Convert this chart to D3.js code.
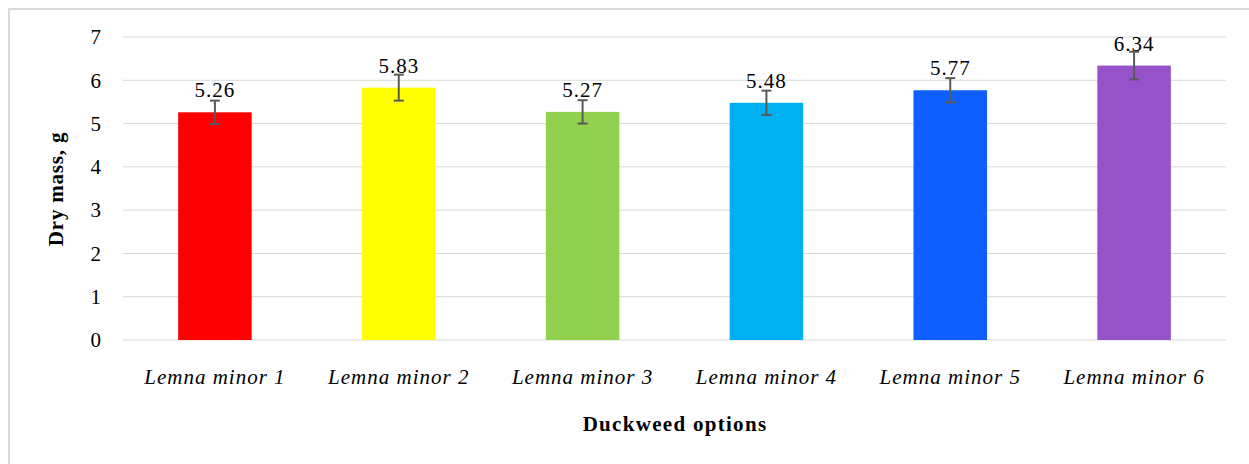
<!DOCTYPE html>
<html>
<head>
<meta charset="utf-8">
<script src="https://d3js.org/d3.v7.min.js"></script>
<style>
  body { margin: 0; background: #fff; }
  svg { display: block; }
  svg text { font-family: "Liberation Serif", "Times New Roman", "DejaVu Serif", serif; }
</style>
</head>
<body>
<div id="chart"></div>
<script>
// data
var categories = ["Lemna minor 1", "Lemna minor 2", "Lemna minor 3", "Lemna minor 4", "Lemna minor 5", "Lemna minor 6"];
var values = [5.26, 5.83, 5.27, 5.48, 5.77, 6.34];
var errors = [0.27, 0.30, 0.27, 0.28, 0.28, 0.32];
var colors = ["#ff0000", "#ffff00", "#92d050", "#00b0f0", "#0f5fff", "#9652c9"];
var yTicks = [0, 1, 2, 3, 4, 5, 6, 7];

var serif = "'Liberation Serif', 'Times New Roman', serif";
var w = 1249, h = 464;
var svg = d3.select("#chart").append("svg")
    .attr("width", w)
    .attr("height", h);

// frame
svg.append("rect")
    .attr("x", 9).attr("y", 9)
    .attr("width", w + 10).attr("height", h + 10)
    .attr("fill", "none")
    .attr("stroke", "#d9d9d9")
    .attr("stroke-width", 2);

// plot area (note: "top" is reserved on window)
var pLeft = 123, pRight = 1226, pTop = 37, pBottom = 340;

var x = d3.scaleBand().domain(categories).range([pLeft, pRight]).paddingInner(0.6).paddingOuter(0.3);
var y = d3.scaleLinear().domain([0, 7]).range([pBottom, pTop]);

// gridlines
svg.append("g").selectAll("line")
    .data(yTicks)
    .enter().append("line")
    .attr("x1", pLeft).attr("x2", pRight)
    .attr("y1", function(d) { return y(d); })
    .attr("y2", function(d) { return y(d); })
    .attr("stroke", "#d9d9d9")
    .attr("stroke-width", 1);

// y axis labels
var yAxis = d3.axisLeft(y).tickValues(yTicks).tickSize(0).tickPadding(0).tickFormat(d3.format("d"));
var gy = svg.append("g").attr("transform", "translate(101,0)").call(yAxis)
    .attr("font-family", null);
gy.select(".domain").remove();
gy.selectAll("text")
    .style("font-family", serif)
    .style("font-size", "21px")
    .attr("fill", "#000");

// bars
svg.append("g").selectAll("rect")
    .data(values)
    .enter().append("rect")
    .attr("x", function(d, i) { return x(categories[i]); })
    .attr("y", function(d) { return y(d); })
    .attr("width", x.bandwidth())
    .attr("height", function(d) { return y(0) - y(d); })
    .attr("fill", function(d, i) { return colors[i]; });

// error bars
var eb = svg.append("g").selectAll("g")
    .data(values)
    .enter().append("g")
    .attr("stroke", "#595959")
    .attr("stroke-width", 2);
eb.append("line")
    .attr("x1", function(d, i) { return x(categories[i]) + x.bandwidth() / 2; })
    .attr("x2", function(d, i) { return x(categories[i]) + x.bandwidth() / 2; })
    .attr("y1", function(d, i) { return y(d + errors[i]); })
    .attr("y2", function(d, i) { return y(d - errors[i]); });
[1, -1].forEach(function(s) {
  eb.append("line")
    .attr("x1", function(d, i) { return x(categories[i]) + x.bandwidth() / 2 - 5; })
    .attr("x2", function(d, i) { return x(categories[i]) + x.bandwidth() / 2 + 5; })
    .attr("y1", function(d, i) { return y(d + s * errors[i]); })
    .attr("y2", function(d, i) { return y(d + s * errors[i]); });
});

// value labels
svg.append("g").selectAll("text")
    .data(values)
    .enter().append("text")
    .attr("x", function(d, i) { return x(categories[i]) + x.bandwidth() / 2; })
    .attr("y", function(d) { return y(d) - 15; })
    .attr("text-anchor", "middle")
    .style("font-family", serif)
    .style("font-size", "21px")
    .style("letter-spacing", "1px")
    .attr("fill", "#000")
    .text(function(d) { return d.toFixed(2); });

// x axis labels
var xAxis = d3.axisBottom(x).tickSize(0).tickPadding(0);
var gx = svg.append("g").attr("transform", "translate(0,384)").call(xAxis)
    .attr("font-family", null);
gx.select(".domain").remove();
gx.selectAll("text")
    .attr("dy", 0)
    .style("font-family", serif)
    .style("font-style", "italic")
    .style("font-size", "21px")
    .style("letter-spacing", "1px")
    .attr("fill", "#000");

// axis titles
svg.append("text")
    .attr("x", 675).attr("y", 431)
    .attr("text-anchor", "middle")
    .style("font-family", serif)
    .style("font-weight", "bold")
    .style("font-size", "21px")
    .style("letter-spacing", "1.3px")
    .text("Duckweed options");

svg.append("text")
    .attr("transform", "translate(63,189) rotate(-90)")
    .attr("text-anchor", "middle")
    .style("font-family", serif)
    .style("font-weight", "bold")
    .style("font-size", "21px")
    .style("letter-spacing", "0.8px")
    .text("Dry mass, g");
</script>
</body>
</html>
